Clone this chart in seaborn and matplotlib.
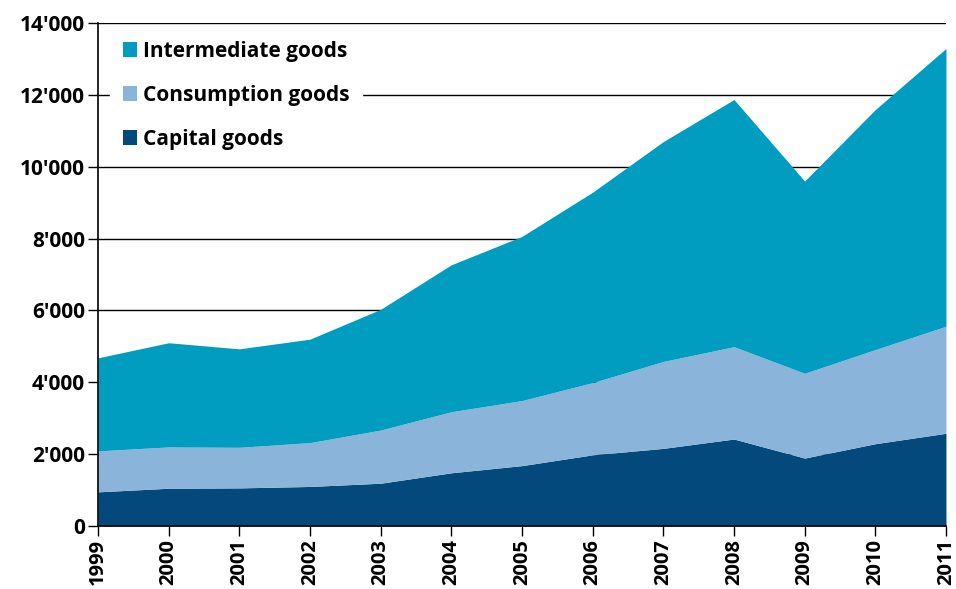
import matplotlib
matplotlib.use("Agg")
import matplotlib.pyplot as plt
from matplotlib.patches import Patch
from matplotlib.ticker import FuncFormatter, MultipleLocator
import seaborn as sns
import pandas as pd

years = [1999, 2000, 2001, 2002, 2003, 2004, 2005, 2006, 2007, 2008, 2009, 2010, 2011]
capital_goods = [950, 1050, 1060, 1100, 1190, 1480, 1680, 1980, 2160, 2420, 1890, 2290, 2580]
consumption_goods = [1140, 1150, 1130, 1220, 1480, 1700, 1810, 2010, 2420, 2570, 2360, 2620, 2980]
intermediate_goods = [2590, 2900, 2740, 2880, 3360, 4090, 4570, 5300, 6120, 6880, 5350, 6680, 7730]

series_names = ["Capital goods", "Consumption goods", "Intermediate goods"]
colors = ["#03497b", "#8ab4da", "#009dc0"]

df = pd.DataFrame({
    "year": years,
    "Capital goods": capital_goods,
    "Consumption goods": consumption_goods,
    "Intermediate goods": intermediate_goods,
})

sns.set_theme(style="white")
plt.rcParams["font.family"] = ["Open Sans", "DejaVu Sans"]
plt.rcParams["font.weight"] = "bold"
plt.rcParams["text.color"] = "black"

fig = plt.figure(figsize=(9.56, 5.89), dpi=100)
ax = fig.add_axes([0.1025, 0.107, 0.8870, 0.854])

ax.stackplot(df["year"], [df[n] for n in series_names], colors=colors,
             linewidth=0, zorder=2)

ax.set_xlim(1999, 2011)
ax.set_ylim(0, 14000)
ax.yaxis.set_major_locator(MultipleLocator(2000))
ax.yaxis.set_major_formatter(FuncFormatter(lambda v, p: f"{int(v):,}".replace(",", "'")))
ax.set_xticks(years)
ax.set_xticklabels([str(y) for y in years], rotation=90, fontsize=14.5, fontweight="bold")
for lbl in ax.get_yticklabels():
    lbl.set_fontsize(15)
    lbl.set_fontweight("bold")

ax.grid(axis="y", color="black", linewidth=1.0, zorder=1)
ax.grid(axis="x", visible=False)
ax.set_axisbelow(True)

for side in ["top", "right"]:
    ax.spines[side].set_visible(False)
for side in ["left", "bottom"]:
    ax.spines[side].set_color("black")
    ax.spines[side].set_linewidth(1.2)
    ax.spines[side].set_zorder(3)

ax.tick_params(axis="both", which="major", direction="out", length=7.5, width=1,
               color="black", labelcolor="black", left=True, bottom=True, pad=2)
ax.set_xlabel("")
ax.set_ylabel("")

handles = [Patch(facecolor=colors[i], edgecolor="none") for i in (2, 1, 0)]
labels = [series_names[i] for i in (2, 1, 0)]
leg = ax.legend(handles, labels, loc="upper left", bbox_to_anchor=(0.002, 1.01),
                frameon=True, fancybox=False, framealpha=1, edgecolor="white",
                facecolor="white", handlelength=0.7, handleheight=0.7,
                handletextpad=0.3, labelspacing=1.1, borderpad=0.6,
                labelcolor="black", prop={"size": 15, "weight": "bold"})
leg.set_zorder(4)

fig.savefig("out.png", dpi=100)
